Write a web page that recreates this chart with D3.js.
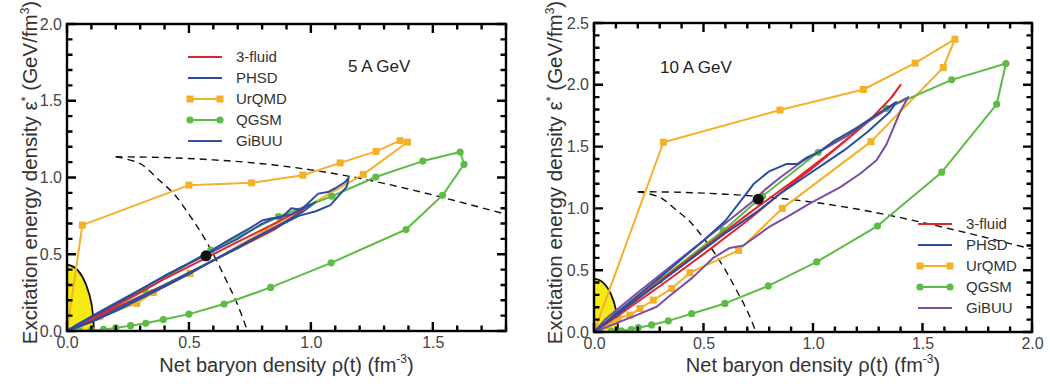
<!DOCTYPE html>
<html>
<head>
<meta charset="utf-8">
<script src="https://cdn.jsdelivr.net/npm/d3@7"></script>
<style>
  body { margin: 0; background: #fff; }
  svg { display: block; font-family: "Liberation Sans", Arial, Helvetica, sans-serif; }
</style>
</head>
<body>
<div id="chart"></div>
<script>
// ===== DATA =====

const seriesNames = ['3-fluid', 'PHSD', 'UrQMD', 'QGSM', 'GiBUU'];

// tick labels
const xTicks5 = [0, 0.5, 1.0, 1.5];
const yTicks5 = [0, 0.5, 1.0, 1.5, 2.0];
const xTicks10 = [0, 0.5, 1.0, 1.5, 2.0];
const yTicks10 = [0, 0.5, 1.0, 1.5, 2.0, 2.5];

// hadron gas region (quarter ellipse at the origin): rho, eps
const hadronRegion = [0.11, 0.43];

// dashed phase boundary curves, shared by both panels
const dashFlat = [[0.2, 1.135], [0.4, 1.13], [0.6, 1.115], [0.8, 1.09], [1.0, 1.05], [1.2, 0.995],
  [1.4, 0.925], [1.6, 0.845], [1.8, 0.76], [2.0, 0.67]];
const dashSteep = [[0.2, 1.135], [0.3, 1.09], [0.38, 0.98], [0.44, 0.89], [0.5, 0.76], [0.55, 0.64],
  [0.6, 0.5], [0.65, 0.34], [0.7, 0.17], [0.74, 0]];

// ---- 5 A GeV ----
const fluid5 = [[0, 0], [0.1, 0.08], [0.25, 0.21], [0.4, 0.34], [0.55, 0.46], [0.7, 0.58], [0.85, 0.7],
  [0.98, 0.81], [0.95, 0.77], [0.85, 0.66], [0.7, 0.54], [0.55, 0.42], [0.4, 0.3], [0.2, 0.15], [0, 0]];
const phsd5 = [[0, 0], [0.05, 0.05], [0.15, 0.14], [0.3, 0.27], [0.45, 0.4], [0.57, 0.5], [0.65, 0.58],
  [0.75, 0.67], [0.8, 0.72], [0.84, 0.735], [0.88, 0.74], [0.92, 0.8], [0.96, 0.79], [1.03, 0.895],
  [1.07, 0.905], [1.1, 0.93], [1.14, 0.97], [1.155, 1.0], [1.147, 0.94], [1.08, 0.82], [1.02, 0.78],
  [0.95, 0.75], [0.9, 0.71], [0.8, 0.63], [0.7, 0.54], [0.6, 0.46], [0.5, 0.37], [0.4, 0.29],
  [0.3, 0.21], [0.2, 0.13], [0.1, 0.06], [0, 0]];
const urqmd5 = [[0, 0], [0.063, 0.69], [0.5, 0.95], [0.757, 0.965], [0.967, 1.015], [1.12, 1.095],
  [1.267, 1.17], [1.366, 1.24], [1.396, 1.23], [1.215, 1.02], [0.505, 0.375], [0.354, 0.25],
  [0.286, 0.18], [0.135, 0.093], [0.05, 0.03], [0, 0]];
const qgsm5 = [[0.05, 0], [0.1, 0.005], [0.15, 0.01], [0.2, 0.02], [0.261, 0.035], [0.323, 0.05],
  [0.395, 0.075], [0.5, 0.11], [0.644, 0.176], [0.835, 0.284], [1.083, 0.444], [1.39, 0.661],
  [1.54, 0.884], [1.628, 1.086], [1.612, 1.166], [1.459, 1.107], [1.266, 1.003], [1.086, 0.878],
  [0.867, 0.745], [0.59, 0.527], [0.32, 0.267], [0.12, 0.09], [0, 0]];
const gibuu5 = [[0, 0], [0.1, 0.09], [0.25, 0.22], [0.4, 0.36], [0.55, 0.48], [0.7, 0.6], [0.8, 0.7],
  [0.86, 0.74], [0.92, 0.76], [0.98, 0.81], [1.02, 0.84], [0.97, 0.78], [0.88, 0.7], [0.75, 0.59],
  [0.6, 0.46], [0.45, 0.34], [0.3, 0.22], [0.2, 0.14], [0.1, 0.06], [0, 0]];
const critPoint5 = [0.57, 0.49];

// ---- 10 A GeV ----
const fluid10 = [[0, 0], [0.1, 0.14], [0.3, 0.41], [0.5, 0.68], [0.7, 0.95], [0.9, 1.21], [1.1, 1.48],
  [1.25, 1.7], [1.35, 1.88], [1.4, 2.0], [1.36, 1.9], [1.25, 1.7], [1.15, 1.55], [1.0, 1.33],
  [0.85, 1.12], [0.7, 0.9], [0.5, 0.63], [0.3, 0.37], [0.1, 0.12], [0, 0]];
const phsd10 = [[0, 0], [0.1, 0.15], [0.3, 0.44], [0.5, 0.74], [0.6, 0.9], [0.7, 1.13], [0.73, 1.2],
  [0.8, 1.3], [0.88, 1.36], [0.93, 1.36], [0.97, 1.41], [1.03, 1.46], [1.1, 1.55], [1.2, 1.65],
  [1.3, 1.77], [1.38, 1.86], [1.35, 1.78], [1.25, 1.62], [1.15, 1.48], [1.05, 1.36], [0.95, 1.24],
  [0.85, 1.12], [0.75, 0.98], [0.6, 0.8], [0.45, 0.6], [0.3, 0.4], [0.15, 0.2], [0, 0]];
const urqmd10 = [[0, 0], [0.317, 1.535], [0.849, 1.796], [1.23, 1.962], [1.466, 2.175], [1.648, 2.369],
  [1.595, 2.14], [1.265, 1.54], [0.86, 1.0], [0.66, 0.66], [0.438, 0.48], [0.355, 0.352],
  [0.271, 0.258], [0.21, 0.19], [0.164, 0.137], [0.111, 0.11], [0.06, 0.05], [0, 0]];
const qgsm10 = [[0.03, 0], [0.08, 0.005], [0.125, 0.01], [0.17, 0.02], [0.202, 0.035], [0.263, 0.057],
  [0.339, 0.09], [0.446, 0.148], [0.598, 0.231], [0.796, 0.373], [1.017, 0.567], [1.294, 0.857],
  [1.588, 1.293], [1.839, 1.844], [1.881, 2.172], [1.633, 2.04], [1.336, 1.81], [1.024, 1.454],
  [0.77, 1.1], [0.59, 0.82], [0.3, 0.42], [0.1, 0.14], [0, 0]];
const gibuu10 = [[0, 0], [0.05, 0.1], [0.2, 0.32], [0.4, 0.6], [0.6, 0.88], [0.72, 1.05], [0.78, 1.15],
  [0.85, 1.25], [0.95, 1.38], [1.05, 1.48], [1.15, 1.58], [1.25, 1.7], [1.35, 1.82], [1.435, 1.9],
  [1.4, 1.79], [1.336, 1.52], [1.29, 1.39], [1.215, 1.28], [1.123, 1.17], [0.986, 1.04], [0.88, 0.93],
  [0.8, 0.85], [0.682, 0.7], [0.62, 0.68], [0.545, 0.6], [0.45, 0.44], [0.35, 0.3], [0.286, 0.204],
  [0.2, 0.14], [0.1, 0.07], [0, 0]];
const critPoint10 = [0.75, 1.075];

// ===== STYLE =====
const colors = {
  '3-fluid': '#e3262d',
  'PHSD': '#2c4d9c',
  'UrQMD': '#f5b02a',
  'QGSM': '#5cbc45',
  'GiBUU': '#2f52a3'
};
const markerOf = { 'UrQMD': 'square', 'QGSM': 'circle' };

const panels = [
  {
    id: 'p5', left: 67, right: 506, top: 24, bottom: 331,
    xMax: 1.8, yMax: 2.0, xTicks: xTicks5, yTicks: yTicks5,
    series: { '3-fluid': fluid5, 'PHSD': phsd5, 'UrQMD': urqmd5, 'QGSM': qgsm5, 'GiBUU': gibuu5 },
    gibuuColor: '#2f52a3', crit: critPoint5,
    label: '5 A GeV', labelX: 348, labelY: 72,
    legendLine: [188, 222], legendText: 236, legendY: 57,
    yTitleX: 37
  },
  {
    id: 'p10', left: 594, right: 1032, top: 23, bottom: 332,
    xMax: 2.0, yMax: 2.5, xTicks: xTicks10, yTicks: yTicks10,
    series: { '3-fluid': fluid10, 'PHSD': phsd10, 'UrQMD': urqmd10, 'QGSM': qgsm10, 'GiBUU': gibuu10 },
    gibuuColor: '#7a4ea3', crit: critPoint10,
    label: '10 A GeV', labelX: 660, labelY: 73,
    legendLine: [918, 952], legendText: 966, legendY: 224,
    yTitleX: 562
  }
];

const drawOrder = ['UrQMD', 'QGSM', '3-fluid', 'GiBUU', 'PHSD'];

const svg = d3.select('#chart').append('svg')
  .attr('width', 1050)
  .attr('height', 384);

function drawMarker(g, kind, cx, cy, color) {
  if (kind === 'square') {
    g.append('rect')
      .attr('x', cx - 3.5).attr('y', cy - 3.5)
      .attr('width', 7).attr('height', 7)
      .attr('fill', color);
  } else if (kind === 'circle') {
    g.append('circle')
      .attr('cx', cx).attr('cy', cy).attr('r', 3.6)
      .attr('fill', color);
  }
}

function drawPanel(p) {
  const x = d3.scaleLinear().domain([0, p.xMax]).range([p.left, p.right]);
  const y = d3.scaleLinear().domain([0, p.yMax]).range([p.bottom, p.top]);
  const g = svg.append('g');

  g.append('clipPath').attr('id', 'clip-' + p.id)
    .append('rect')
    .attr('x', p.left).attr('y', p.top)
    .attr('width', p.right - p.left).attr('height', p.bottom - p.top);

  const plot = g.append('g').attr('clip-path', `url(#clip-${p.id})`);

  // yellow hadron region
  const x0 = x(0), y0 = y(0);
  const rx = x(hadronRegion[0]) - x0, ry = y0 - y(hadronRegion[1]);
  plot.append('path')
    .attr('d', `M${x0},${y0}L${x0},${y0 - ry}A${rx},${ry} 0 0 1 ${x0 + rx},${y0}Z`)
    .attr('fill', '#f7ea14');
  plot.append('path')
    .attr('d', `M${x0},${y0 - ry}A${rx},${ry} 0 0 1 ${x0 + rx},${y0}`)
    .attr('fill', 'none')
    .attr('stroke', '#111')
    .attr('stroke-width', 1.8);

  // dashed boundaries
  const smooth = d3.line().x(d => x(d[0])).y(d => y(d[1])).curve(d3.curveCatmullRom);
  [dashFlat, dashSteep].forEach(arr => {
    plot.append('path')
      .attr('d', smooth(arr))
      .attr('fill', 'none')
      .attr('stroke', '#111')
      .attr('stroke-width', 1.4)
      .attr('stroke-dasharray', '7,5');
  });

  // model trajectories
  const line = d3.line().x(d => x(d[0])).y(d => y(d[1]));
  drawOrder.forEach(name => {
    const color = name === 'GiBUU' ? p.gibuuColor : colors[name];
    const data = p.series[name];
    plot.append('path')
      .attr('d', line(data))
      .attr('fill', 'none')
      .attr('stroke', color)
      .attr('stroke-width', 2)
      .attr('stroke-linejoin', 'round');
    if (markerOf[name]) {
      data.forEach(d => drawMarker(plot, markerOf[name], x(d[0]), y(d[1]), color));
    }
  });

  // critical point
  plot.append('circle')
    .attr('cx', x(p.crit[0])).attr('cy', y(p.crit[1]))
    .attr('r', 5.5)
    .attr('fill', '#111');

  // inward ticks on all four sides (minor every 0.1, major on the labels)
  const minorX = d3.range(0, p.xMax + 1e-9, 0.1);
  const minorY = d3.range(0, p.yMax + 1e-9, 0.1);
  const isMajor = (v, list) => list.some(t => Math.abs(t - v) < 1e-6);
  let tickPath = '';
  minorX.forEach(v => {
    const len = isMajor(v, p.xTicks) ? 9 : 5.5;
    const px = x(v);
    tickPath += `M${px},${p.bottom}V${p.bottom - len}M${px},${p.top}V${p.top + len}`;
  });
  minorY.forEach(v => {
    const len = isMajor(v, p.yTicks) ? 9 : 5.5;
    const py = y(v);
    tickPath += `M${p.left},${py}H${p.left + len}M${p.right},${py}H${p.right - len}`;
  });
  g.append('path')
    .attr('d', tickPath)
    .attr('fill', 'none')
    .attr('stroke', '#000')
    .attr('stroke-width', 2.4);

  // tick labels through d3 axes
  const fmt = d3.format('.1f');
  const axes = g.append('g');
  axes.append('g').attr('transform', `translate(0,${p.bottom})`)
    .call(d3.axisBottom(x).tickValues(p.xTicks).tickSize(0).tickPadding(6).tickFormat(fmt));
  axes.append('g').attr('transform', `translate(${p.left},0)`)
    .call(d3.axisLeft(y).tickValues(p.yTicks).tickSize(0).tickPadding(5).tickFormat(fmt));
  axes.selectAll('.domain').remove();
  axes.selectAll('.tick line').remove();
  axes.selectAll('.tick text')
    .attr('font-size', 16)
    .attr('font-family', '"Liberation Sans", Arial, sans-serif')
    .attr('fill', '#444');

  // frame
  g.append('rect')
    .attr('x', p.left).attr('y', p.top)
    .attr('width', p.right - p.left).attr('height', p.bottom - p.top)
    .attr('fill', 'none')
    .attr('stroke', '#000')
    .attr('stroke-width', 2.4);

  // axis titles
  const xt = g.append('text')
    .attr('x', (p.left + p.right) / 2)
    .attr('y', 372)
    .attr('text-anchor', 'middle')
    .attr('font-size', 20)
    .attr('fill', '#333');
  xt.append('tspan').text('Net baryon density \u03c1(t) (fm');
  xt.append('tspan').attr('font-size', 12).attr('dy', -9).text('-3');
  xt.append('tspan').attr('dy', 9).text(')');

  const yt = g.append('text')
    .attr('transform', `translate(${p.yTitleX},${(p.top + p.bottom) / 2 - 5}) rotate(-90)`)
    .attr('text-anchor', 'middle')
    .attr('font-size', 20.5)
    .attr('fill', '#333');
  yt.append('tspan').text('Excitation energy density \u03b5');
  yt.append('tspan').attr('font-size', 13).attr('dy', -7).text('*');
  yt.append('tspan').attr('dy', 7).text(' (GeV/fm');
  yt.append('tspan').attr('font-size', 12).attr('dy', -8).text('3');
  yt.append('tspan').attr('dy', 8).text(')');

  // energy label
  g.append('text')
    .attr('x', p.labelX).attr('y', p.labelY)
    .attr('font-size', 17)
    .attr('fill', '#222')
    .text(p.label);

  // legend
  const lg = g.append('g');
  seriesNames.forEach((name, i) => {
    const color = name === 'GiBUU' ? p.gibuuColor : colors[name];
    const ly = p.legendY + i * 21;
    lg.append('line')
      .attr('x1', p.legendLine[0]).attr('x2', p.legendLine[1])
      .attr('y1', ly).attr('y2', ly)
      .attr('stroke', color)
      .attr('stroke-width', 2);
    if (markerOf[name]) {
      drawMarker(lg, markerOf[name], p.legendLine[0] + 2, ly, color);
      drawMarker(lg, markerOf[name], p.legendLine[1] - 2, ly, color);
    }
    lg.append('text')
      .attr('x', p.legendText).attr('y', ly)
      .attr('dy', '0.35em')
      .attr('font-size', 15)
      .attr('fill', '#333')
      .text(name);
  });
}

panels.forEach(drawPanel);
</script>
</body>
</html>
